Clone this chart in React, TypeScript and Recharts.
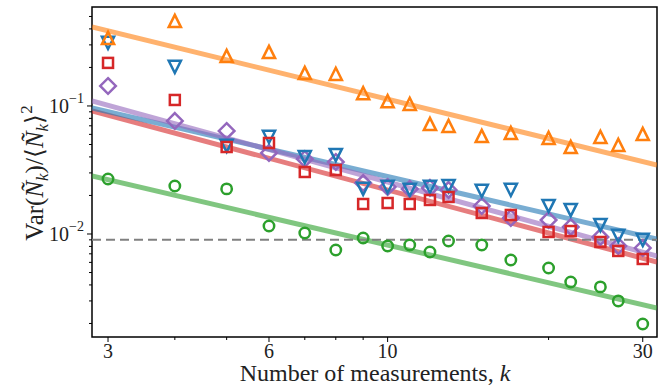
import {
  ComposedChart,
  XAxis,
  YAxis,
  Line,
  Scatter,
  ReferenceLine,
  ReferenceArea,
  Customized,
} from "recharts";

const K = [3, 4, 5, 6, 7, 8, 9, 10, 11, 12, 13, 15, 17, 20, 22, 25, 27, 30];

const blueVals = [
  0.311, 0.202, 0.0487, 0.0573, 0.0399, 0.0414, 0.0225, 0.0233, 0.0221, 0.0233,
  0.0237, 0.0217, 0.0221, 0.01655, 0.0154, 0.01175, 0.00965, 0.00898,
];
const orangeVals = [
  0.34, 0.461, 0.246, 0.264, 0.181, 0.178, 0.126, 0.109, 0.104, 0.0723, 0.0698,
  0.0583, 0.0615, 0.0562, 0.0478, 0.0573, 0.0496, 0.0604,
];
const greenVals = [
  0.0269, 0.0237, 0.0225, 0.01155, 0.01018, 0.0075, 0.0093, 0.00806, 0.0082,
  0.00723, 0.00882, 0.0082, 0.00626, 0.00542, 0.00422, 0.00386, 0.003, 0.00198,
];
const redVals = [
  0.217, 0.1114, 0.0478, 0.0514, 0.0305, 0.0316, 0.01715, 0.01746, 0.01715,
  0.01844, 0.01946, 0.01459, 0.01408, 0.01037, 0.01055, 0.00866, 0.00737,
  0.00638,
];
const purpleVals = [
  0.1433, 0.0764, 0.0638, 0.043, 0.0385, 0.0365, 0.025, 0.0233, 0.0225, 0.0229,
  0.0221, 0.01655, 0.01334, 0.01286, 0.01134, 0.00947, 0.00806, 0.00778,
];

// power-law fits, read at the two edges of the axes
const FIT_K = [2.8, 31.9];
const blueFit = [0.0964, 0.00914];
const orangeFit = [0.414, 0.0346];
const greenFit = [0.0284, 0.00264];
const redFit = [0.0914, 0.00604];
const purpleFit = [0.1094, 0.00673];

const THRESHOLD = 0.009;

const X_TICKS = [3, 4, 5, 6, 7, 8, 9, 10, 20, 30];
const X_MAJOR = [3, 6, 10, 30];
const Y_TICKS = [
  0.002, 0.003, 0.004, 0.005, 0.006, 0.007, 0.008, 0.009, 0.01, 0.02, 0.03,
  0.04, 0.05, 0.06, 0.07, 0.08, 0.09, 0.1, 0.2, 0.3, 0.4, 0.5,
];
const Y_MAJOR: Record<string, string> = { "0.1": "\u22121", "0.01": "\u22122" };

const X_DOMAIN = [2.8, 31.9];
const Y_DOMAIN = [0.001568, 0.593];

const C = {
  blue: "#1f77b4",
  orange: "#ff7f0e",
  green: "#2ca02c",
  red: "#d62728",
  purple: "#9467bd",
};

const FONT = "'Liberation Serif', 'Times New Roman', serif";

const pts = (vals: number[]) => K.map((k, i) => ({ k, v: vals[i] }));
const fit = (vals: number[]) => FIT_K.map((k, i) => ({ k, v: vals[i] }));

const SW = 2.5;

const triUp = (color: string) => (p: any) => {
  const { cx, cy } = p;
  const s = 6.1;
  return (
    <path
      d={`M${cx},${cy - s}L${cx + s},${cy + s}L${cx - s},${cy + s}Z`}
      fill="none"
      stroke={color}
      strokeWidth={SW}
    />
  );
};

const triDown = (color: string) => (p: any) => {
  const { cx, cy } = p;
  const s = 6.1;
  return (
    <path
      d={`M${cx},${cy + s}L${cx + s},${cy - s}L${cx - s},${cy - s}Z`}
      fill="none"
      stroke={color}
      strokeWidth={SW}
    />
  );
};

const square = (color: string) => (p: any) => {
  const { cx, cy } = p;
  const s = 5;
  return (
    <rect
      x={cx - s}
      y={cy - s}
      width={2 * s}
      height={2 * s}
      fill="none"
      stroke={color}
      strokeWidth={SW}
    />
  );
};

const diamond = (color: string) => (p: any) => {
  const { cx, cy } = p;
  const s = 7.8;
  return (
    <path
      d={`M${cx},${cy - s}L${cx + s},${cy}L${cx},${cy + s}L${cx - s},${cy}Z`}
      fill="none"
      stroke={color}
      strokeWidth={SW}
    />
  );
};

const circle = (color: string) => (p: any) => {
  const { cx, cy } = p;
  return <circle cx={cx} cy={cy} r={5.2} fill="none" stroke={color} strokeWidth={SW} />;
};

function XTick(props: any) {
  const { x, y, payload } = props;
  const major = X_MAJOR.includes(payload.value);
  return (
    <g>
      <line x1={x} x2={x} y1={y} y2={y + (major ? 5 : 3)} stroke="#000" strokeWidth={1} />
      {major && (
        <text x={x} y={y + 21} textAnchor="middle" fontSize={20} fontFamily={FONT} fill="#222">
          {payload.value}
        </text>
      )}
    </g>
  );
}

function YTick(props: any) {
  const { x, y, payload } = props;
  const exp = Y_MAJOR[String(payload.value)];
  return (
    <g>
      <line x1={x} x2={x - (exp ? 5 : 3)} y1={y} y2={y} stroke="#000" strokeWidth={1} />
      {exp && (
        <text x={x - 8} y={y + 7} textAnchor="end" fontFamily={FONT} fill="#222">
          <tspan fontSize={20}>10</tspan>
          <tspan fontSize={14} dy={-10}>
            {exp}
          </tspan>
        </text>
      )}
    </g>
  );
}

function AxisTitles() {
  return (
    <g fontFamily={FONT} fill="#222">
      <text x={375} y={381} textAnchor="middle" fontSize={24}>
        Number of measurements, <tspan fontStyle="italic">k</tspan>
      </text>
      <text
        transform="translate(43,173) rotate(-90)"
        textAnchor="middle"
        fontSize={25}
      >
        Var(<tspan fontStyle="italic">Ñ</tspan>
        <tspan fontSize={17} fontStyle="italic" dy={5}>k</tspan>
        <tspan dy={-5}>)/⟨</tspan>
        <tspan fontStyle="italic">Ñ</tspan>
        <tspan fontSize={17} fontStyle="italic" dy={5}>k</tspan>
        <tspan dy={-5}>⟩</tspan>
        <tspan fontSize={17} dy={-11}>2</tspan>
      </text>
    </g>
  );
}

export default function App() {
  return (
    <div style={{ position: "absolute", left: 0, top: 0, background: "#fff" }}>
      <ComposedChart
        width={667}
        height={385}
        margin={{ top: 7, right: 10, bottom: 0, left: 0 }}
      >
        <XAxis
          dataKey="k"
          type="number"
          scale="log"
          domain={X_DOMAIN}
          allowDataOverflow
          ticks={X_TICKS}
          interval={0}
          tick={<XTick />}
          tickSize={0}
          tickMargin={0}
          tickLine={false}
          axisLine={false}
          height={48}
        />
        <YAxis
          dataKey="v"
          type="number"
          scale="log"
          domain={Y_DOMAIN}
          allowDataOverflow
          ticks={Y_TICKS}
          interval={0}
          tick={<YTick />}
          tickSize={0}
          tickMargin={0}
          tickLine={false}
          axisLine={false}
          width={92}
        />

        <Line data={fit(redFit)} dataKey="v" stroke={C.red} strokeOpacity={0.6} strokeWidth={5} dot={false} isAnimationActive={false} />
        <Line data={fit(blueFit)} dataKey="v" stroke={C.blue} strokeOpacity={0.6} strokeWidth={5} dot={false} isAnimationActive={false} />
        <Line data={fit(purpleFit)} dataKey="v" stroke={C.purple} strokeOpacity={0.6} strokeWidth={5} dot={false} isAnimationActive={false} />
        <Line data={fit(greenFit)} dataKey="v" stroke={C.green} strokeOpacity={0.6} strokeWidth={5} dot={false} isAnimationActive={false} />
        <Line data={fit(orangeFit)} dataKey="v" stroke={C.orange} strokeOpacity={0.6} strokeWidth={5} dot={false} isAnimationActive={false} />

        <ReferenceLine y={THRESHOLD} stroke="#808080" strokeWidth={2} strokeDasharray="9 5" />

        <Scatter data={pts(purpleVals)} shape={diamond(C.purple)} isAnimationActive={false} />
        <Scatter data={pts(blueVals)} shape={triDown(C.blue)} isAnimationActive={false} />
        <Scatter data={pts(redVals)} shape={square(C.red)} isAnimationActive={false} />
        <Scatter data={pts(orangeVals)} shape={triUp(C.orange)} isAnimationActive={false} />
        <Scatter data={pts(greenVals)} shape={circle(C.green)} isAnimationActive={false} />

        <ReferenceArea
          x1={X_DOMAIN[0]}
          x2={X_DOMAIN[1]}
          y1={Y_DOMAIN[0]}
          y2={Y_DOMAIN[1]}
          fill="none"
          stroke="#000"
          strokeWidth={1.5}
        />
        <Customized component={AxisTitles} />
      </ComposedChart>
    </div>
  );
}
